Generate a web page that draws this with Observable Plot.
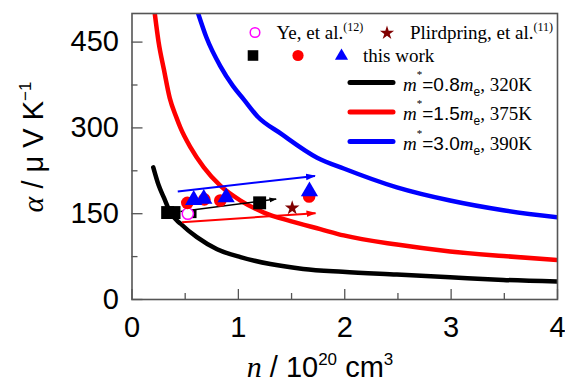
<!DOCTYPE html>
<html><head><meta charset="utf-8">
<script src="https://cdn.jsdelivr.net/npm/d3@7"></script>
<script src="https://cdn.jsdelivr.net/npm/@observablehq/plot@0.6"></script>
<style>body{margin:0;background:#fff}</style>
</head><body>
<script>
// ---- data ----
// Pisarenko curves: n (1e20 cm^-3) vs alpha (uV/K)
const nM08 = [0.20, 0.25, 0.30, 0.36, 0.46, 0.61, 0.80, 1.02, 1.30, 1.61, 1.98, 2.49, 2.99, 3.49, 4.0];
const aM08 = [231, 200, 178, 152, 132, 109, 88, 74, 62, 53.5, 48.5, 43.6, 38.9, 34.3, 31.4];
const nM15 = [0.214, 0.25, 0.30, 0.355, 0.418, 0.456, 0.55, 0.675, 0.83, 1.02, 1.24, 1.49, 1.77, 1.99, 2.49, 2.99, 3.49, 4.0];
const aM15 = [500, 450, 402, 352, 318, 300, 266, 231, 199, 173, 152, 137, 123, 112, 96, 84, 76, 69];
const nM30 = [0.622, 0.70, 0.83, 0.95, 1.05, 1.18, 1.40, 1.74, 1.99, 2.49, 2.99, 3.49, 4.0];
const aM30 = [500, 458, 408, 373, 350, 320, 290, 248, 229, 196, 173, 156, 143.5];

// this work
const nSquareBig = [0.335, 0.395, 1.20];
const aSquareBig = [152, 152, 169];
const nSquareSmall = [0.565];
const aSquareSmall = [150];
const nCircle = [0.52, 0.68, 0.83, 1.665];
const aCircle = [169, 175, 173, 180];
const nTri = [0.58, 0.675, 0.885, 1.668];
const aTri = [174, 176, 178.5, 189];
// literature
const nYe = [0.525];
const aYe = [150];
const nPlird = [1.506];
const aPlird = [160];
// arrows
const arrowColor = ["#0000ff", "#000000", "#ff0000"];
const arrowN1 = [0.43, 0.456, 0.47];
const arrowA1 = [189, 154, 135];
const arrowN2 = [1.72, 1.355, 1.725];
const arrowA2 = [216, 175.6, 151];
const arrowW = [2, 1.5, 2];

// ticks
const xTicks = [0, 1, 2, 3, 4];
const xMinor = [0.5, 1.5, 2.5, 3.5];
const yTicks = [0, 150, 300, 450];
const yMinor = [75, 225, 375];

// ---- build tables ----
const zip = (xs, ys) => xs.map((x, i) => ({n: x, a: ys[i]}));
const c08 = zip(nM08, aM08), c15 = zip(nM15, aM15), c30 = zip(nM30, aM30);
const sqBig = zip(nSquareBig, aSquareBig);
const sqSmall = zip(nSquareSmall, aSquareSmall);
const circles = zip(nCircle, aCircle);
const tris = zip(nTri, aTri);
const ye = zip(nYe, aYe);
const plird = zip(nPlird, aPlird);
const arrows = arrowColor.map((c, i) => ({c, n1: arrowN1[i], a1: arrowA1[i], n2: arrowN2[i], a2: arrowA2[i], w: arrowW[i]}));

const W = 565, H = 382, mL = 131.5, mR = 8, mT = 13, mB = 83;
const plotW = W - mL - mR, plotH = H - mT - mB;
const axisGray = "#555";

function filledArrow(color, context) {
  const doc = (context && context.document) || document;
  const ns = "http://www.w3.org/2000/svg";
  const m = doc.createElementNS(ns, "marker");
  m.setAttribute("viewBox", "0 -5 10 10");
  m.setAttribute("refX", "9");
  m.setAttribute("refY", "0");
  m.setAttribute("markerWidth", "5");
  m.setAttribute("markerHeight", "5");
  m.setAttribute("orient", "auto");
  const p = doc.createElementNS(ns, "path");
  p.setAttribute("d", "M0,-3.3L10,0L0,3.3Z");
  p.setAttribute("fill", color);
  p.setAttribute("stroke", "none");
  m.appendChild(p);
  return m;
}

function build(marker) {
  return Plot.plot({
    width: W, height: H,
    marginLeft: mL, marginRight: mR, marginTop: mT, marginBottom: mB,
    style: {fontFamily: "'Liberation Sans', Arial, sans-serif", fontSize: "29px", color: "black", background: "white"},
    x: {domain: [0, 4]},
    y: {domain: [0, 500]},
    marks: [
      Plot.line(c08, {x: "n", y: "a", stroke: "black", strokeWidth: 4.5, curve: "monotone-x", clip: true}),
      Plot.line(c15, {x: "n", y: "a", stroke: "#ff0000", strokeWidth: 4.5, curve: "monotone-x", clip: true}),
      Plot.line(c30, {x: "n", y: "a", stroke: "#0000ff", strokeWidth: 4.5, curve: "monotone-x", clip: true}),
      Plot.link(arrows, {x1: "n1", y1: "a1", x2: "n2", y2: "a2", stroke: "c", strokeWidth: "w", markerEnd: marker}),
      Plot.dot(sqBig, {x: "n", y: "a", r: 7.3, symbol: "square", fill: "black"}),
      Plot.dot(sqSmall, {x: "n", y: "a", r: 5, symbol: "square", fill: "black"}),
      Plot.dot(ye, {x: "n", y: "a", r: 5.6, stroke: "#ff00ff", fill: "white", strokeWidth: 1.5}),
      Plot.dot(circles, {x: "n", y: "a", r: 6.3, fill: "#ff0000"}),
      Plot.dot(tris, {x: "n", y: "a", r: 6.4, symbol: "triangle", fill: "#0000ff"}),
      Plot.dot(plird, {x: "n", y: "a", r: 4.6, symbol: "star", fill: "#800000"}),
      // inward ticks
      Plot.tickX(xTicks, {x: d => d, insetTop: plotH - 10, stroke: axisGray, strokeWidth: 1.3}),
      Plot.tickX(xMinor, {x: d => d, insetTop: plotH - 6, stroke: axisGray, strokeWidth: 1.3}),
      Plot.tickY(yTicks, {y: d => d, insetRight: plotW - 11, stroke: axisGray, strokeWidth: 1.3}),
      Plot.tickY(yMinor, {y: d => d, insetRight: plotW - 6, stroke: axisGray, strokeWidth: 1.3}),
      Plot.frame({stroke: axisGray, strokeWidth: 1.6}),
      Plot.axisX({ticks: xTicks, tickSize: 0, tickPadding: 17, label: null, fontSize: 29, tickFormat: d => String(d)}),
      Plot.axisY({ticks: yTicks, tickSize: 0, tickPadding: 13, label: null, fontSize: 29, tickFormat: d => String(d)})
    ]
  });
}

let chart;
try { chart = build(filledArrow); } catch (e) { chart = build("arrow"); }
document.body.appendChild(chart);

// ---- labels & legend (rich text) ----
const svg = d3.select(chart);
const SERIF = "'Liberation Serif', 'Times New Roman', serif";
const SANS = "'Liberation Sans', Arial, sans-serif";

function rich(g, x, y, parts, opts = {}) {
  const t = g.append("text").attr("x", x).attr("y", y).attr("fill", "black")
    .attr("text-anchor", opts.anchor || "start");
  if (opts.transform) t.attr("transform", opts.transform).attr("x", 0).attr("y", 0);
  for (const p of parts) {
    const s = t.append("tspan").text(p.t)
      .attr("font-family", p.f || SANS)
      .attr("font-size", p.s)
      .attr("font-style", p.i ? "italic" : "normal");
    if (p.dy) s.attr("dy", p.dy);
  }
  return t;
}

const labels = svg.append("g");
// x label
rich(labels, 320, 377, [
  {t: "n", f: SERIF, s: 30, i: true},
  {t: " / 10", s: 29},
  {t: "20", s: 17, dy: -12},
  {t: " cm", s: 29, dy: 12},
  {t: "3", s: 17, dy: -12}
], {anchor: "middle"});
// y label
rich(labels, 0, 0, [
  {t: "α", f: SERIF, s: 30, i: true},
  {t: " / μ V K", s: 29},
  {t: "−1", s: 17, dy: -12}
], {anchor: "middle", transform: "translate(43,147) rotate(-90)"});

// legend
const lg = svg.append("g");
const sym = (type, size) => d3.symbol(type, size)();
lg.append("circle").attr("cx", 255).attr("cy", 32.5).attr("r", 4.8)
  .attr("fill", "white").attr("stroke", "#ff00ff").attr("stroke-width", 1.5);
rich(lg, 276.5, 38.5, [
  {t: "Ye, et al.", f: SERIF, s: 19},
  {t: "(12)", f: SERIF, s: 12, dy: -8}
]);
lg.append("path").attr("d", sym(d3.symbolStar, 62)).attr("transform", "translate(387,33)").attr("fill", "#800000");
rich(lg, 410, 38.5, [
  {t: "Plirdpring, et al.", f: SERIF, s: 19},
  {t: "(11)", f: SERIF, s: 12, dy: -8}
]);
lg.append("path").attr("d", sym(d3.symbolSquare, 112)).attr("transform", "translate(253,55.5)").attr("fill", "black");
lg.append("circle").attr("cx", 298).attr("cy", 55.5).attr("r", 5.6).attr("fill", "#ff0000");
lg.append("path").attr("d", sym(d3.symbolTriangle, 75)).attr("transform", "translate(341.5,56)").attr("fill", "#0000ff");
rich(lg, 363, 62, [{t: "this work", f: SERIF, s: 19}]);

const rows = [
  {y: 82.5, c: "black", m: "=0.8", T: ", 320K"},
  {y: 112, c: "#ff0000", m: "=1.5", T: ", 375K"},
  {y: 141.5, c: "#0000ff", m: "=3.0", T: ", 390K"}
];
for (const r of rows) {
  lg.append("line").attr("x1", 350).attr("x2", 393).attr("y1", r.y).attr("y2", r.y)
    .attr("stroke", r.c).attr("stroke-width", 5).attr("stroke-linecap", "round");
  rich(lg, 403, r.y + 8, [
    {t: "m", f: SERIF, s: 19, i: true},
    {t: "*", f: SERIF, s: 11, dy: -13},
    {t: r.m, f: SANS, s: 19, dy: 13},
    {t: "m", f: SERIF, s: 19, i: true},
    {t: "e", f: SANS, s: 12, dy: 5},
    {t: r.T, f: SERIF, s: 19, dy: -5}
  ]);
}
</script>
</body></html>
